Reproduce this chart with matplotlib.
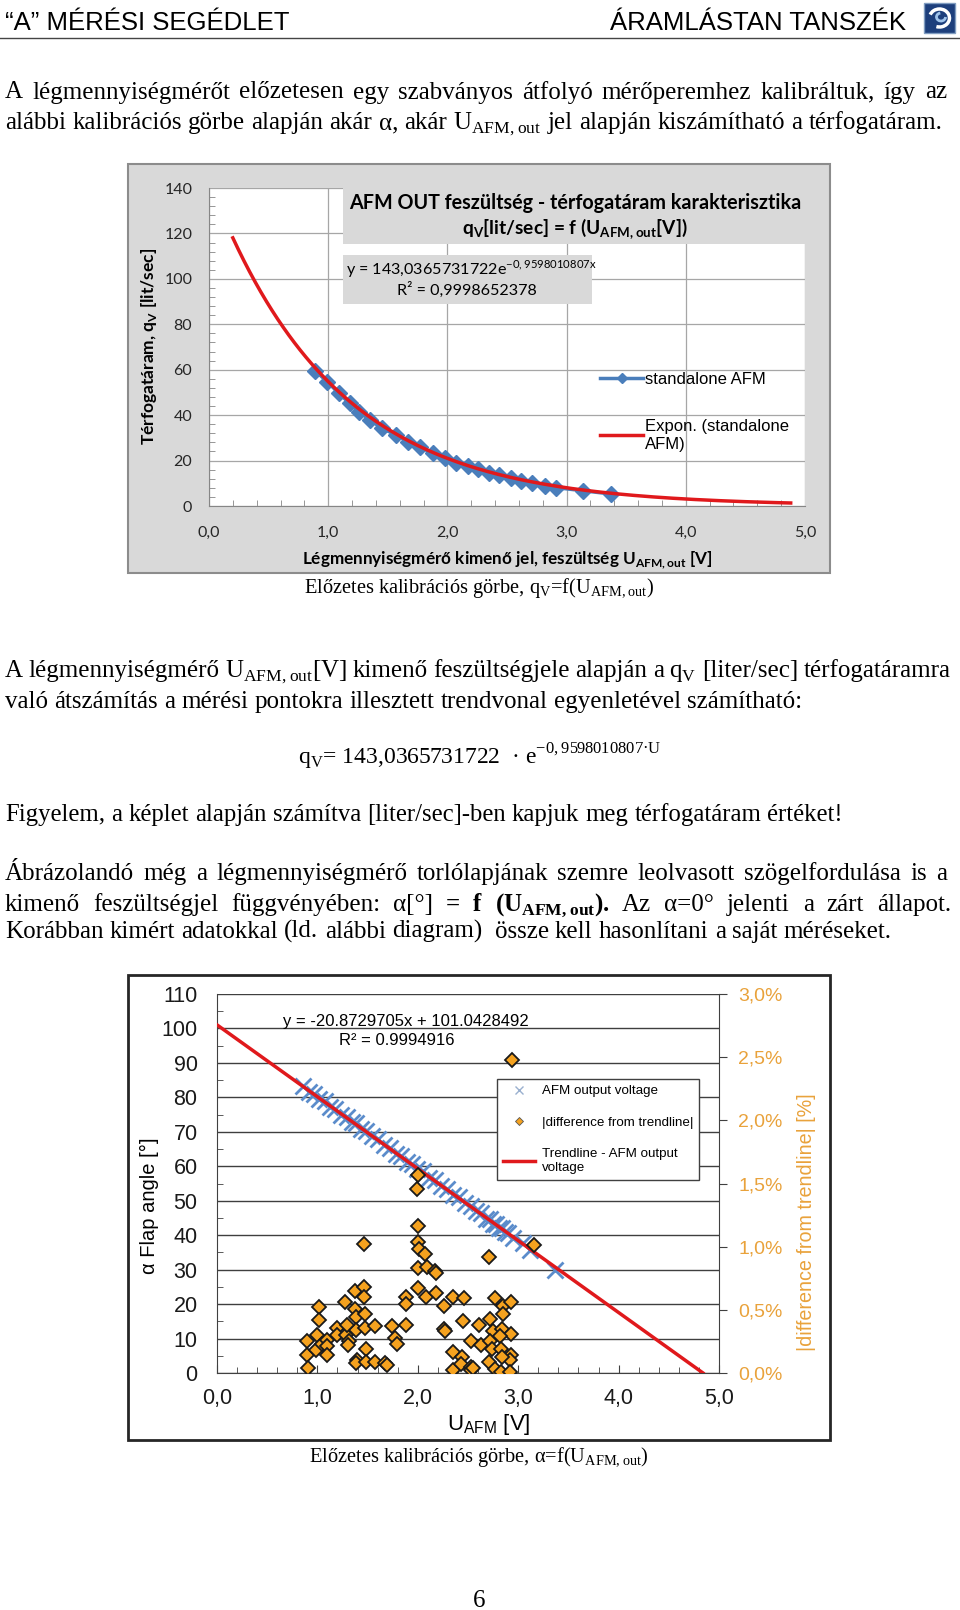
import matplotlib
matplotlib.use('Agg')
import numpy as np
import matplotlib.pyplot as plt
from matplotlib.patches import Rectangle, Arc
from matplotlib.lines import Line2D
from matplotlib.transforms import Affine2D
from matplotlib.ticker import MultipleLocator, FuncFormatter

W, H = 960, 1610

# top chart: standalone AFM calibration, q_V [lit/sec] vs U_AFM,out [V]
cal_u = [0.89, 0.99, 1.09, 1.18, 1.26, 1.35, 1.45, 1.57, 1.67, 1.77, 1.88, 1.98,
         2.07, 2.17, 2.26, 2.35, 2.43, 2.53, 2.62, 2.71, 2.82, 2.91, 3.14, 3.37]
cal_q = [59.6, 54.8, 49.6, 45.2, 41.5, 37.9, 34.2, 31.3, 28.3, 25.9, 23.2, 21.0,
         19.1, 17.6, 16.2, 14.7, 13.5, 12.2, 10.9, 10.0, 8.9, 8.1, 6.7, 5.3]
exp_coef = 143.0365731722
exp_rate = -0.9598010807
exp_span = (0.20, 4.88)
top_xticks = [0, 1, 2, 3, 4, 5]
top_yticks = [0, 20, 40, 60, 80, 100, 120, 140]

# bottom chart: flap angle and |difference from trendline| vs U_AFM
flap_u = [0.86, 0.92, 0.97, 1.02, 1.08, 1.13, 1.18, 1.24, 1.29, 1.34, 1.38, 1.43,
          1.48, 1.54, 1.60, 1.66, 1.72, 1.78, 1.83, 1.89, 1.94, 1.99, 2.05, 2.11,
          2.17, 2.23, 2.29, 2.35, 2.41, 2.47, 2.53, 2.58, 2.63, 2.68, 2.72, 2.75,
          2.78, 2.81, 2.84, 2.87, 2.90, 2.95, 3.05, 3.12, 3.37]
flap_alpha = [83.4, 81.5, 80.9, 79.4, 78.8, 77.2, 76.6, 75.0, 74.4, 72.8, 72.5, 70.9,
              70.3, 68.7, 67.9, 66.1, 65.4, 63.6, 63.1, 61.3, 60.8, 59.2, 58.5, 56.7,
              56.0, 54.2, 53.5, 51.7, 51.0, 49.2, 48.5, 46.9, 46.4, 44.8, 44.6, 43.3,
              43.2, 42.1, 42.0, 40.9, 40.7, 39.2, 37.6, 35.8, 30.0]
diff_u = [0.90, 0.90, 0.91, 1.02, 1.02, 1.00, 0.99, 1.05, 1.10, 1.10, 1.10, 1.20,
          1.20, 1.28, 1.27, 1.37, 1.37, 1.38, 1.38, 1.29, 1.31, 1.30, 1.39, 1.38,
          1.46, 1.46, 1.46, 1.47, 1.475, 1.485, 1.48, 1.575, 1.575, 1.67, 1.69, 1.74,
          1.77, 1.79, 1.88, 1.88, 1.88, 2.00, 1.99, 2.00, 2.00, 2.01, 2.00, 2.07,
          2.09, 2.17, 2.18, 2.00, 2.08, 2.18, 2.26, 2.26, 2.27, 2.35, 2.46, 2.45,
          2.35, 2.35, 2.44, 2.43, 2.53, 2.53, 2.53, 2.61, 2.63, 2.71, 2.77, 2.85,
          2.93, 2.85, 2.72, 2.75, 2.84, 2.93, 2.72, 2.82, 2.74, 2.83, 2.93, 2.92,
          2.84, 2.71, 2.77, 2.83, 2.92, 2.55, 2.94, 3.16]
diff_pct = [0.25, 0.14, 0.04, 0.52, 0.42, 0.30, 0.18, 0.23, 0.26, 0.21, 0.14, 0.36,
            0.30, 0.30, 0.56, 0.65, 0.51, 0.44, 0.34, 0.38, 0.25, 0.22, 0.10, 0.08,
            1.02, 0.68, 0.60, 0.47, 0.36, 0.19, 0.09, 0.37, 0.09, 0.08, 0.06, 0.37,
            0.28, 0.23, 0.60, 0.55, 0.38, 1.57, 1.46, 1.16, 1.04, 0.98, 0.83, 0.94,
            0.84, 0.81, 0.79, 0.67, 0.60, 0.63, 0.53, 0.35, 0.33, 0.60, 0.59, 0.41,
            0.17, 0.02, 0.13, 0.07, 0.25, 0.05, 0.02, 0.38, 0.22, 0.92, 0.59, 0.53,
            0.56, 0.47, 0.43, 0.33, 0.35, 0.31, 0.25, 0.29, 0.19, 0.19, 0.14, 0.10,
            0.13, 0.09, 0.03, 0.01, 0.01, 0.04, 2.48, 1.01]
lin_slope = -20.8729705
lin_icpt = 101.0428492
lin_span = (0.0, 4.84)
bot_xticks = [0, 1, 2, 3, 4, 5]
bot_yticks = list(range(0, 111, 10))
pct_ticks = [0.0, 0.5, 1.0, 1.5, 2.0, 2.5, 3.0]

BLUE = '#4a7ebb'
XBLUE = '#5b8ccb'
RED = '#e0191c'
ORANGE = '#f5a21f'
ORANGE_TXT = '#e9a23b'
GRAY = '#d9d9d9'

SERIF = ['Liberation Serif', 'DejaVu Serif']
SANS = ['Liberation Sans', 'DejaVu Sans']
CALI = ['Lato', 'DejaVu Sans']
BODY = 18

fig = plt.figure(figsize=(W / 100, H / 100), dpi=100)
# pixel coordinates, origin top-left
PX = Affine2D().scale(1 / W, -1 / H).translate(0, 1) + fig.transFigure


def ptext(x, y, s, **kw):
    return fig.text(x, y, s, transform=PX, **kw)


def px_axes(x0, y0, x1, y1):
    return fig.add_axes([x0 / W, 1 - y1 / H, (x1 - x0) / W, (y1 - y0) / H])


def body_line(y, text, x1=None, bold=(), size=BODY, x0=5):
    # lays out words one by one so that a line can be justified
    r = fig.canvas.get_renderer()
    items = []
    for i, w in enumerate(text.split(' ')):
        t = ptext(x0, y, w, family=SERIF, fontsize=size, va='baseline',
                  weight='bold' if i in bold else 'normal')
        items.append((t, t.get_window_extent(r).width))
    total = sum(wd for _, wd in items)
    gap = (x1 - x0 - total) / (len(items) - 1) if x1 else size * 0.25 * 100 / 72
    x = x0
    for t, wd in items:
        t.set_x(x)
        x += wd + gap


# ---- page header ----
ptext(5, 30, '“A” MÉRÉSI SEGÉDLET', family=SANS, fontsize=18.5, va='baseline')
ptext(906, 30, 'ÁRAMLÁSTAN TANSZÉK', family=SANS, fontsize=18.5, va='baseline', ha='right')
fig.add_artist(Line2D([0, W], [38, 38], transform=PX, color='#444444', lw=1))
fig.add_artist(Rectangle((924, 3), 31, 30, transform=PX, fc='#1d3f7c', ec='#7f9cc0', lw=1))
fig.add_artist(Arc((939.5, 18), 20, 18, theta1=200, theta2=470, transform=PX, color='white', lw=2.5))
fig.add_artist(Arc((941, 17), 9, 8, theta1=0, theta2=260, transform=PX, color='#9fc3ea', lw=2))

# ---- body text ----
body_line(98.5, 'A légmennyiségmérőt előzetesen egy szabványos átfolyó mérőperemhez kalibráltuk, így az', x1=947)
body_line(129, r'alábbi kalibrációs görbe alapján akár α, akár U$_\mathregular{AFM,out}$ jel alapján kiszámítható a térfogatáram.')
ptext(479, 593, r'Előzetes kalibrációs görbe, q$_\mathregular{V}$=f(U$_\mathregular{AFM,out}$)',
      family=SERIF, fontsize=14.7, ha='center', va='baseline')
body_line(677, r'A légmennyiségmérő U$_\mathregular{AFM,out}$[V] kimenő feszültségjele alapján a q$_\mathregular{V}$ [liter/sec] térfogatáramra', x1=951)
body_line(708, 'való átszámítás a mérési pontokra illesztett trendvonal egyenletével számítható:')
ptext(298, 764, r'q$_\mathregular{V}$= 143,0365731722  · e$^\mathregular{-0,9598010807·U}$',
      family=SERIF, fontsize=17, va='baseline')
body_line(821, 'Figyelem, a képlet alapján számítva [liter/sec]-ben kapjuk meg térfogatáram értéket!', size=17.8)
body_line(880, 'Ábrázolandó még a légmennyiségmérő torlólapjának szemre leolvasott szögelfordulása is a', x1=947)
body_line(910.5, r'kimenő feszültségjel függvényében: α[°] = f (U$_\mathregular{AFM,out}$). Az α=0° jelenti a zárt állapot.',
          x1=951, bold=(4, 5, 6))
body_line(938, 'Korábban kimért adatokkal (ld. alábbi diagram)  össze kell hasonlítani a saját méréseket.')
ptext(479, 1462, r'Előzetes kalibrációs görbe, α=f(U$_\mathregular{AFM,out}$)',
      family=SERIF, fontsize=14.7, ha='center', va='baseline')
ptext(479, 1607, '6', family=SERIF, fontsize=BODY, ha='center', va='baseline')

# ---- top chart ----
fig.add_artist(Rectangle((128, 164), 702, 409, transform=PX, fc=GRAY, ec='#8c8c8c', lw=1.5, zorder=-1))
ax1 = px_axes(209, 188, 805, 506)
u_fit = np.linspace(*exp_span, 200)
ax1.plot(u_fit, exp_coef * np.exp(exp_rate * u_fit), color=RED, lw=2.5, zorder=3)
ax1.plot(cal_u, cal_q, color=BLUE, lw=2.5, marker='D', ms=8, zorder=2)
ax1.set_xlim(0, 5)
ax1.set_ylim(0, 140)
ax1.set_xticks(top_xticks)
ax1.set_yticks(top_yticks)
ax1.xaxis.set_minor_locator(MultipleLocator(0.2))
ax1.yaxis.set_minor_locator(MultipleLocator(4))
ax1.xaxis.set_major_formatter(FuncFormatter(lambda v, p: f'{v:.1f}'.replace('.', ',')))
ax1.grid(True, which='major', color='#a6a6a6', lw=0.9)
ax1.tick_params(which='both', direction='in', color='#868686', labelsize=11.5, labelcolor='#262626')
ax1.tick_params(which='major', length=0)
ax1.tick_params(axis='y', which='major', pad=12)
ax1.tick_params(axis='x', which='major', pad=14)
ax1.tick_params(which='minor', length=4)
for lab in ax1.get_xticklabels() + ax1.get_yticklabels():
    lab.set_family(CALI)
for s in ('top', 'right'):
    ax1.spines[s].set_visible(False)
for s in ('left', 'bottom'):
    ax1.spines[s].set_color('#868686')

fig.add_artist(Rectangle((343, 166), 466, 78, transform=PX, fc=GRAY, ec='none', zorder=2))
ptext(575, 203, 'AFM OUT feszültség - térfogatáram karakterisztika', family=CALI,
      weight='bold', fontsize=14.2, ha='center', va='center')
ptext(575, 229, r'q$_\mathregular{V}$[lit/sec] = f (U$_\mathregular{AFM,out}$[V])', family=CALI,
      weight='bold', fontsize=13.8, ha='center', va='center')
fig.add_artist(Rectangle((343, 255), 249, 49, transform=PX, fc=GRAY, ec='none', zorder=2))
ptext(346, 269, r'y = 143,0365731722e$^\mathregular{-0,9598010807x}$', family=CALI,
      fontsize=11.6, va='center')
ptext(467, 290, 'R² = 0,9998652378', family=CALI, fontsize=11.6, ha='center', va='center')

h_cal = Line2D([], [], color=BLUE, lw=2.5, marker='D', ms=5)
h_exp = Line2D([], [], color=RED, lw=2.5)
leg1 = ax1.legend([h_cal, h_exp], ['standalone AFM', 'Expon. (standalone\nAFM)'], loc='upper left',
                  bbox_to_anchor=(600 / W, 1 - 372 / H), bbox_transform=fig.transFigure,
                  frameon=False, prop={'family': SANS, 'size': 12}, handlelength=2.6,
                  handletextpad=0.1, labelspacing=1.9, borderpad=0, borderaxespad=0)
for t in leg1.get_texts():
    t.set_linespacing(1.25)
ptext(507, 560, r'Légmennyiségmérő kimenő jel, feszültség U$_\mathregular{AFM,out}$ [V]', family=CALI,
      weight='bold', fontsize=12.3, ha='center', va='center')
ptext(149, 346, r'Térfogatáram, q$_\mathregular{V}$ [lit/sec]', family=CALI, weight='bold',
      fontsize=12.5, rotation=90, ha='center', va='center')

# ---- bottom chart ----
fig.add_artist(Rectangle((128, 975), 702, 465, transform=PX, fc='white', ec='#262626', lw=2, zorder=-1))
ax3 = px_axes(217, 994, 719, 1373)
ax3.plot(flap_u, flap_alpha, ls='none', marker='x', ms=11, mew=2, color=XBLUE, zorder=2)
u_lin = np.array(lin_span)
ax3.plot(u_lin, lin_slope * u_lin + lin_icpt, color=RED, lw=2.5, zorder=3)
ax3.set_xlim(0, 5)
ax3.set_ylim(0, 110)
ax3.set_xticks(bot_xticks)
ax3.set_yticks(bot_yticks)
ax3.xaxis.set_minor_locator(MultipleLocator(0.2))
ax3.yaxis.set_minor_locator(MultipleLocator(5))
ax3.xaxis.set_major_formatter(FuncFormatter(lambda v, p: f'{v:.1f}'.replace('.', ',')))
ax3.grid(True, axis='y', which='major', color='#3f3f3f', lw=1)
ax3.tick_params(which='both', direction='in', color='#404040', labelsize=15.5, labelcolor='#1a1a1a')
ax3.tick_params(axis='y', which='major', length=0, pad=14)
ax3.tick_params(axis='x', which='major', length=6, pad=11)
ax3.tick_params(which='minor', length=4)
for lab in ax3.get_xticklabels() + ax3.get_yticklabels():
    lab.set_family(SANS)
for s in ('top', 'right'):
    ax3.spines[s].set_visible(False)
for s in ('left', 'bottom'):
    ax3.spines[s].set_color('#404040')

ax4 = ax3.twinx()
ax4.plot(diff_u, diff_pct, ls='none', marker='D', ms=7.5, mfc=ORANGE, mec='#1a1a1a', mew=1.3, zorder=4)
ax4.set_ylim(0, 3)
ax4.set_yticks(pct_ticks)
ax4.yaxis.set_major_formatter(FuncFormatter(lambda v, p: f'{v:.1f}%'.replace('.', ',')))
ax4.tick_params(axis='y', direction='out', length=6, color='#404040', labelsize=14,
                labelcolor=ORANGE_TXT, pad=8)
for lab in ax4.get_yticklabels():
    lab.set_family(SANS)
for s in ('top', 'left', 'bottom'):
    ax4.spines[s].set_visible(False)
ax4.spines['right'].set_color('#404040')

hx = Line2D([], [], ls='none', marker='x', ms=6, mew=1, color='#9ab0cf')
hd = Line2D([], [], ls='none', marker='D', ms=4.5, mfc=ORANGE, mec='#555555', mew=0.6)
hl = Line2D([], [], color=RED, lw=2.5)
leg = ax4.legend([hx, hd, hl], ['AFM output voltage', '|difference from trendline|',
                                'Trendline - AFM output\nvoltage'],
                 loc='upper left', bbox_to_anchor=(497 / W, 1 - 1079 / H),
                 bbox_transform=fig.transFigure, fancybox=False, edgecolor='#404040',
                 framealpha=1, prop={'family': SANS, 'size': 9.6}, handlelength=2.4,
                 handletextpad=0.5, labelspacing=1.45, borderpad=0.45, borderaxespad=0)
leg.get_frame().set_linewidth(1)

ptext(406, 1021, 'y = -20.8729705x + 101.0428492', family=SANS, fontsize=12, ha='center', va='center')
ptext(397, 1040, 'R² = 0.9994916', family=SANS, fontsize=12, ha='center', va='center')
ptext(489, 1424, r'U$_\mathregular{AFM}$ [V]', family=SANS, fontsize=16, ha='center', va='center')
ptext(149, 1206, 'α Flap angle [°]', family=SANS, fontsize=14.5, rotation=90, ha='center', va='center')
ptext(807, 1222, '|difference from trendline| [%]', family=SANS, fontsize=14.2, rotation=90,
      color=ORANGE_TXT, ha='center', va='center')

fig.savefig('out.png', dpi=100)
